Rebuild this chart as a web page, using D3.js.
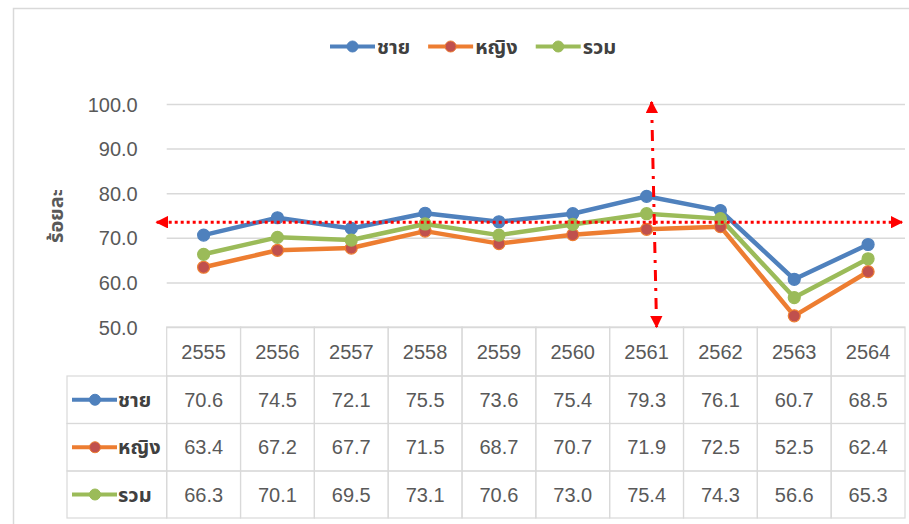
<!DOCTYPE html>
<html><head><meta charset="utf-8">
<script src="https://cdn.jsdelivr.net/npm/d3@7"></script>
<style>
html,body{margin:0;padding:0;background:#fff;}
text{font-family:"Liberation Sans","Noto Sans","Noto Sans Thai",Tahoma,sans-serif;}
</style></head>
<body><svg id="c" width="909" height="524"></svg>
<script>
const years = ["2555","2556","2557","2558","2559","2560","2561","2562","2563","2564"];
const male = [70.6,74.5,72.1,75.5,73.6,75.4,79.3,76.1,60.7,68.5];
const female = [63.4,67.2,67.7,71.5,68.7,70.7,71.9,72.5,52.5,62.4];
const total = [66.3,70.1,69.5,73.1,70.6,73.0,75.4,74.3,56.6,65.3];
const seriesNames = ["ชาย","หญิง","รวม"];
const yTicks = [50,60,70,80,90,100];
const yTitle = "ร้อยละ";
const refValue = 73.5;      // horizontal reference arrow level
const refYear = "2561";     // vertical reference arrow

const colors = ["#4F81BD","#ED7D31","#9BBB59"];
const markerFill = ["#4F81BD","#C0504D","#9BBB59"];
const seriesData = [male, female, total];

const svg = d3.select("#c");
const L = 166.7, R = 905, T = 104, B = 327;
const x = d3.scaleBand().domain(years).range([L, R]);
const y = d3.scaleLinear().domain([50,100]).range([B, T]);
const grey = "#D9D9D9", txt = "#595959";
const numSize = 20;

// outer border
svg.append("path").attr("d","M13.5,524 L13.5,8.5 L909,8.5").attr("fill","none").attr("stroke","#D9D9D9").attr("stroke-width",1.5);

// gridlines
const yAxis = d3.axisLeft(y).tickValues(yTicks).tickFormat(d3.format(".1f")).tickSize(-(R-L)).tickPadding(30);
const ga = svg.append("g").attr("transform",`translate(${L},0)`).call(yAxis);
ga.select(".domain").remove();
ga.selectAll(".tick line").attr("stroke",grey).attr("stroke-width",1.5);
ga.selectAll(".tick text").attr("fill",txt).attr("font-size",numSize).attr("x",-29).attr("dy","0.35em");

// y title
svg.append("text").attr("transform","translate(56,216) rotate(-90)").attr("text-anchor","middle")
  .attr("dy","0.35em").attr("fill",txt).attr("font-size",20).attr("font-weight","bold").text(yTitle);

// table
const rowTop = [327,376,423.5,471];
const rowBot = 518;
const tg = svg.append("g");
years.forEach(yr=>{
  tg.append("rect").attr("x",x(yr)).attr("y",rowTop[0]).attr("width",x.bandwidth()).attr("height",rowTop[1]-rowTop[0])
    .attr("fill","none").attr("stroke",grey).attr("stroke-width",1.2);
  tg.append("text").attr("x",x(yr)+x.bandwidth()/2).attr("y",(rowTop[0]+rowTop[1])/2).attr("dy","0.35em")
    .attr("text-anchor","middle").attr("fill",txt).attr("font-size",numSize).text(yr);
});
seriesData.forEach((vals,i)=>{
  const top = rowTop[i+1], bot = i<2 ? rowTop[i+2] : rowBot, cy=(top+bot)/2;
  tg.append("rect").attr("x",67).attr("y",top).attr("width",L-67).attr("height",bot-top)
    .attr("fill","none").attr("stroke",grey).attr("stroke-width",1.2);
  tg.append("line").attr("x1",72).attr("x2",117).attr("y1",cy).attr("y2",cy).attr("stroke",colors[i]).attr("stroke-width",4);
  tg.append("circle").attr("cx",95).attr("cy",cy).attr("r",5.5).attr("fill",markerFill[i]).attr("stroke",colors[i]).attr("stroke-width",1);
  tg.append("text").attr("x",118).attr("y",cy).attr("dy","0.35em").attr("fill","#404040").attr("font-size",20).attr("font-weight","bold").text(seriesNames[i]);
  vals.forEach((v,j)=>{
    tg.append("rect").attr("x",x(years[j])).attr("y",top).attr("width",x.bandwidth()).attr("height",bot-top)
      .attr("fill","none").attr("stroke",grey).attr("stroke-width",1.2);
    tg.append("text").attr("x",x(years[j])+x.bandwidth()/2).attr("y",cy).attr("dy","0.35em")
      .attr("text-anchor","middle").attr("fill",txt).attr("font-size",numSize).text(d3.format(".1f")(v));
  });
});

// lines
const cx = d => x(d)+x.bandwidth()/2;
const line = d3.line().x((d,i)=>cx(years[i])).y(d=>y(d));
seriesData.forEach((vals,i)=>{
  svg.append("path").datum(vals).attr("d",line).attr("fill","none").attr("stroke",colors[i]).attr("stroke-width",4.5).attr("stroke-linejoin","round");
});
seriesData.forEach((vals,i)=>{
  svg.append("g").selectAll("circle").data(vals).join("circle")
    .attr("cx",(d,j)=>cx(years[j])).attr("cy",d=>y(d)).attr("r",6)
    .attr("fill",markerFill[i]).attr("stroke",colors[i]).attr("stroke-width",1.2);
});

// reference arrows
const defs = svg.append("defs");
defs.append("marker").attr("id","ah").attr("viewBox","0 0 10 10").attr("refX",9).attr("refY",5)
  .attr("markerWidth",4.2).attr("markerHeight",4.2).attr("markerUnits","strokeWidth").attr("orient","auto-start-reverse")
  .append("path").attr("d","M0,0 L10,5 L0,10 Z").attr("fill","#FF0000");
const hy = y(refValue);
svg.append("line").attr("x1",L-10).attr("x2",R-3).attr("y1",hy).attr("y2",hy)
  .attr("stroke","#FF0000").attr("stroke-width",3).attr("stroke-dasharray","3,3")
  .attr("marker-start","url(#ah)").attr("marker-end","url(#ah)");
const vx = cx(refYear);
svg.append("line").attr("x1",vx+5).attr("x2",vx+10).attr("y1",y(100)-2).attr("y2",B)
  .attr("stroke","#FF0000").attr("stroke-width",3).attr("stroke-dasharray","11,7,3,7")
  .attr("marker-start","url(#ah)").attr("marker-end","url(#ah)");

// legend
const lg = svg.append("g");
let lx = 330; const ly = 46.5;
seriesNames.forEach((n,i)=>{
  lg.append("line").attr("x1",lx).attr("x2",lx+45).attr("y1",ly).attr("y2",ly).attr("stroke",colors[i]).attr("stroke-width",4);
  lg.append("circle").attr("cx",lx+22.5).attr("cy",ly).attr("r",5.5).attr("fill",markerFill[i]).attr("stroke",colors[i]).attr("stroke-width",1);
  const t = lg.append("text").attr("x",lx+47).attr("y",ly).attr("dy","0.35em").attr("fill","#404040")
    .attr("font-size",20).attr("font-weight","bold").text(n);
  lx += 47 + t.node().getComputedTextLength() + 18;
});
</script></body></html>
